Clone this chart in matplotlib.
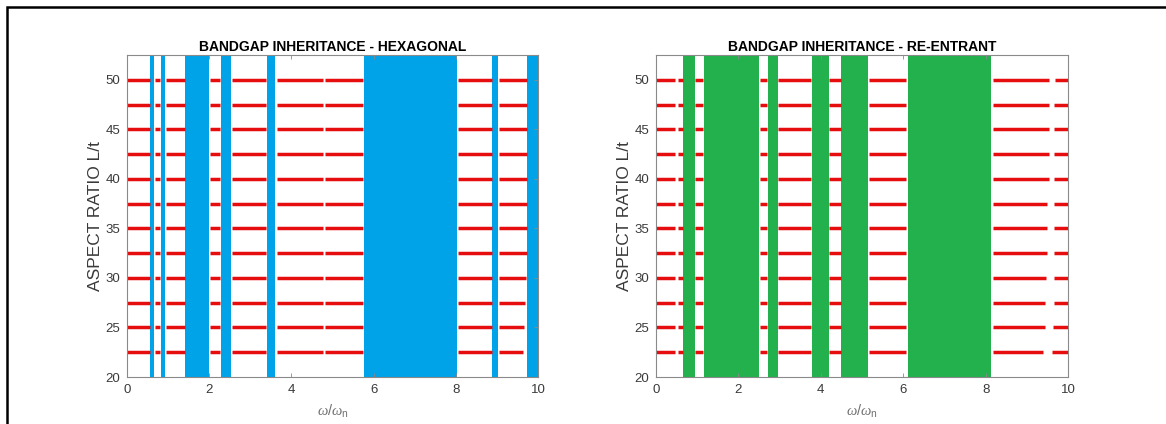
import matplotlib
matplotlib.use("Agg")
from matplotlib import pyplot as plt
from matplotlib.patches import Rectangle

# aspect ratio levels (rows of red passband lines)
aspect = [22.5, 25.0, 27.5, 30.0, 32.5, 35.0, 37.5, 40.0, 42.5, 45.0, 47.5, 50.0]

# hexagonal: bandgap regions (omega/omega_n)
hex_gaps = [(0.57, 0.65), (0.83, 0.93), (1.42, 2.00), (2.28, 2.52), (3.40, 3.61),
            (5.76, 8.04), (8.89, 9.03), (9.74, 10.0)]
# hexagonal: passband segments shared by all rows
hex_pass = [(0.0, 0.56), (0.68, 0.81), (0.95, 1.40), (2.02, 2.26), (2.55, 3.38),
            (3.64, 4.76), (4.82, 5.74), (8.06, 8.87)]
# last hexagonal segment: start and per-row end
hex_last_start = 9.05
hex_last_end = [9.64, 9.67, 9.69, 9.71, 9.73, 9.74, 9.74, 9.74, 9.74, 9.74, 9.74, 9.74]

# re-entrant: bandgap regions
re_gaps = [(0.66, 0.94), (1.16, 2.50), (2.72, 2.95), (3.78, 4.20), (4.50, 5.15),
           (6.11, 8.14)]
# re-entrant: passband segments shared by all rows
re_pass = [(0.0, 0.45), (0.53, 0.66), (0.95, 1.15), (2.52, 2.70), (2.97, 3.77),
           (4.21, 4.49), (5.17, 6.07)]
# re-entrant: right-hand segments, per row
re_mid_start = 8.18
re_mid_end = [9.39, 9.43, 9.45, 9.47, 9.48, 9.50, 9.50, 9.53, 9.53, 9.53, 9.53, 9.53]
re_end_start = [9.62, 9.64, 9.65, 9.65, 9.65, 9.65, 9.65, 9.65, 9.65, 9.66, 9.67, 9.69]

xticks = [0, 2, 4, 6, 8, 10]
yticks = [20, 25, 30, 35, 40, 45, 50]

BLUE = "#00a2e8"
GREEN = "#22b14c"
RED = "#e50d0d"
GREY = "#3a3a3a"

plt.rcParams["font.family"] = ["Liberation Sans", "DejaVu Sans"]
plt.rcParams["mathtext.fontset"] = "custom"
plt.rcParams["mathtext.it"] = "Liberation Serif:italic"
plt.rcParams["mathtext.rm"] = "Liberation Sans"


def row_segments(common, extra):
    segs = []
    for i, y in enumerate(aspect):
        for a, b in common:
            segs.append((a, b, y))
        for a, b in extra(i):
            segs.append((a, b, y))
    return segs


def draw_panel(ax, gaps, segs, color, title):
    for a, b in gaps:
        ax.axvspan(a, b, color=color, lw=0, zorder=1)
    for a, b, y in segs:
        ax.plot([a, b], [y, y], color=RED, lw=2.5, solid_capstyle="butt", zorder=2)
    ax.set_xlim(0, 10)
    ax.set_ylim(20, 52.5)
    ax.set_xticks(xticks)
    ax.set_yticks(yticks)
    ax.tick_params(direction="in", length=3, width=0.6, top=True, right=True,
                   labelsize=9.5, colors="#8a8a8a", labelcolor=GREY, pad=5)
    for sp in ax.spines.values():
        sp.set_color("#8a8a8a")
        sp.set_linewidth(0.8)
    ax.set_title(title, fontsize=10, fontweight="bold", pad=3)
    ax.set_xlabel(r"$\omega/\omega_{\rm n}$", fontsize=10.5, color="#707070", labelpad=5)
    ax.set_ylabel("ASPECT RATIO L/t", fontsize=12.5, color=GREY, labelpad=2)


def main():
    fig = plt.figure(figsize=(11.66, 4.24), dpi=100)
    ax1 = fig.add_axes([127 / 1166, 47 / 424, 411 / 1166, 322 / 424])
    ax2 = fig.add_axes([656 / 1166, 47 / 424, 412 / 1166, 322 / 424])

    hex_segs = row_segments(hex_pass, lambda i: [(hex_last_start, hex_last_end[i])])
    re_segs = row_segments(re_pass, lambda i: [(re_mid_start, re_mid_end[i]),
                                               (re_end_start[i], 10.0)])

    draw_panel(ax1, hex_gaps, hex_segs, BLUE, "BANDGAP INHERITANCE - HEXAGONAL")
    draw_panel(ax2, re_gaps, re_segs, GREEN, "BANDGAP INHERITANCE - RE-ENTRANT")

    # black frame around the figure (cut off at right and bottom)
    fig.patches.append(Rectangle((6.5 / 1166, -0.1), 1.2, 1.1 - 7.5 / 424,
                                 transform=fig.transFigure, fill=False,
                                 edgecolor="black", lw=1.8))

    fig.savefig("out.png", dpi=100)


if __name__ == "__main__":
    main()
